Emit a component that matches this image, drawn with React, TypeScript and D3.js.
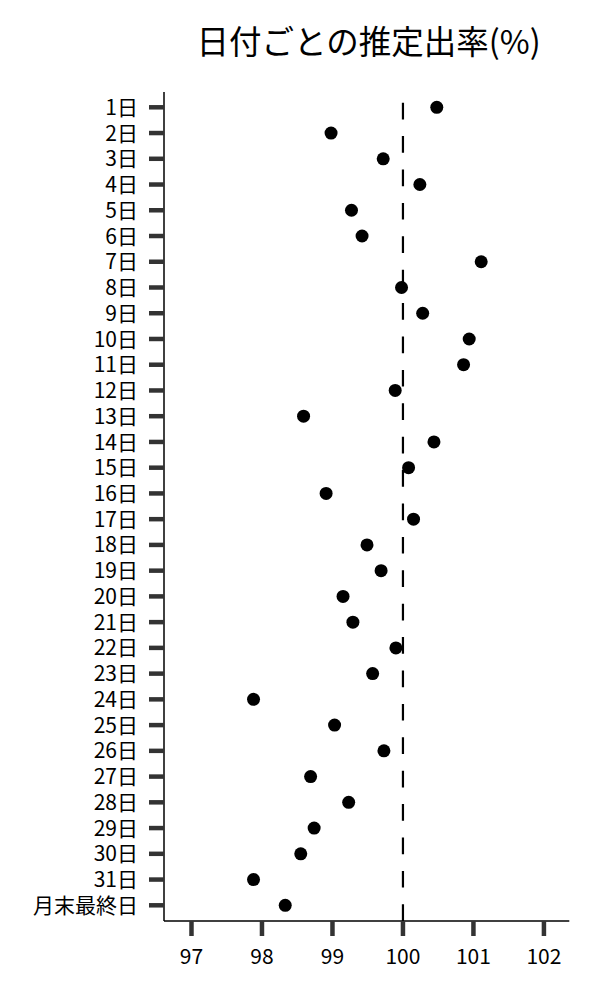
import React from "react";
import * as d3 from "d3";

const categories: string[] = [
  "1日", "2日", "3日", "4日", "5日", "6日", "7日", "8日", "9日", "10日",
  "11日", "12日", "13日", "14日", "15日", "16日", "17日", "18日", "19日", "20日",
  "21日", "22日", "23日", "24日", "25日", "26日", "27日", "28日", "29日", "30日",
  "31日", "月末最終日",
];

const values: number[] = [
  100.48, 98.98, 99.72, 100.24, 99.27, 99.42, 101.11, 99.98, 100.28, 100.94,
  100.86, 99.89, 98.59, 100.44, 100.08, 98.91, 100.15, 99.49, 99.69, 99.15,
  99.29, 99.9, 99.57, 97.88, 99.03, 99.73, 98.69, 99.23, 98.74, 98.55,
  97.88, 98.33,
];

const xTicks: number[] = [97, 98, 99, 100, 101, 102];
const referenceValue = 100;
const title = "日付ごとの推定出率(%)";

const W = 600;
const H = 1000;
const plotLeft = 164;
const plotRight = 569.3;
const plotTop = 92;
const plotBottom = 921;
const FONT = "'Noto Sans CJK JP', 'Noto Sans', sans-serif";

export default function App() {
  const x = d3.scaleLinear().domain([96.61, 102.36]).range([plotLeft, plotRight]);
  const y = d3.scalePoint<string>().domain(categories).range([107.3, 905.3]);
  const tickLen = 15;
  const tickColor = "#333333";

  return (
    <svg
      width={W}
      height={H}
      style={{ position: "absolute", left: 0, top: 0, background: "#fff" }}
      fontFamily={FONT}
    >
      <rect x={0} y={0} width={W} height={H} fill="#fff" />
      <text
        x={(plotLeft + plotRight) / 2 + 2}
        y={54}
        textAnchor="middle"
        fontSize={32.5}
        fill="#000"
      >
        {title}
      </text>

      {/* reference line */}
      <line
        x1={x(referenceValue)}
        x2={x(referenceValue)}
        y1={plotBottom}
        y2={plotTop}
        stroke="#000"
        strokeWidth={2.2}
        strokeDasharray="16.7 16.7"
      />

      {/* y axis */}
      <line x1={plotLeft} x2={plotLeft} y1={plotTop} y2={plotBottom} stroke="#000" strokeWidth={1.5} />
      {categories.map((c) => (
        <g key={c}>
          <line
            x1={plotLeft - tickLen}
            x2={plotLeft}
            y1={y(c)}
            y2={y(c)}
            stroke={tickColor}
            strokeWidth={4.5}
          />
          <text
            x={plotLeft - 26}
            y={y(c)}
            dy="0.36em"
            textAnchor="end"
            fontSize={21}
            fill="#000"
          >
            {c}
          </text>
        </g>
      ))}

      {/* x axis */}
      <line x1={plotLeft} x2={plotRight} y1={plotBottom} y2={plotBottom} stroke="#000" strokeWidth={1.5} />
      {xTicks.map((t) => (
        <g key={t}>
          <line
            x1={x(t)}
            x2={x(t)}
            y1={plotBottom}
            y2={plotBottom + tickLen}
            stroke={tickColor}
            strokeWidth={4.5}
          />
          <text x={x(t)} y={964} textAnchor="middle" fontSize={21} fill="#000">
            {t}
          </text>
        </g>
      ))}

      {/* points */}
      {categories.map((c, i) => (
        <circle key={c} cx={x(values[i])} cy={y(c)} r={6.5} fill="#000" />
      ))}
    </svg>
  );
}
